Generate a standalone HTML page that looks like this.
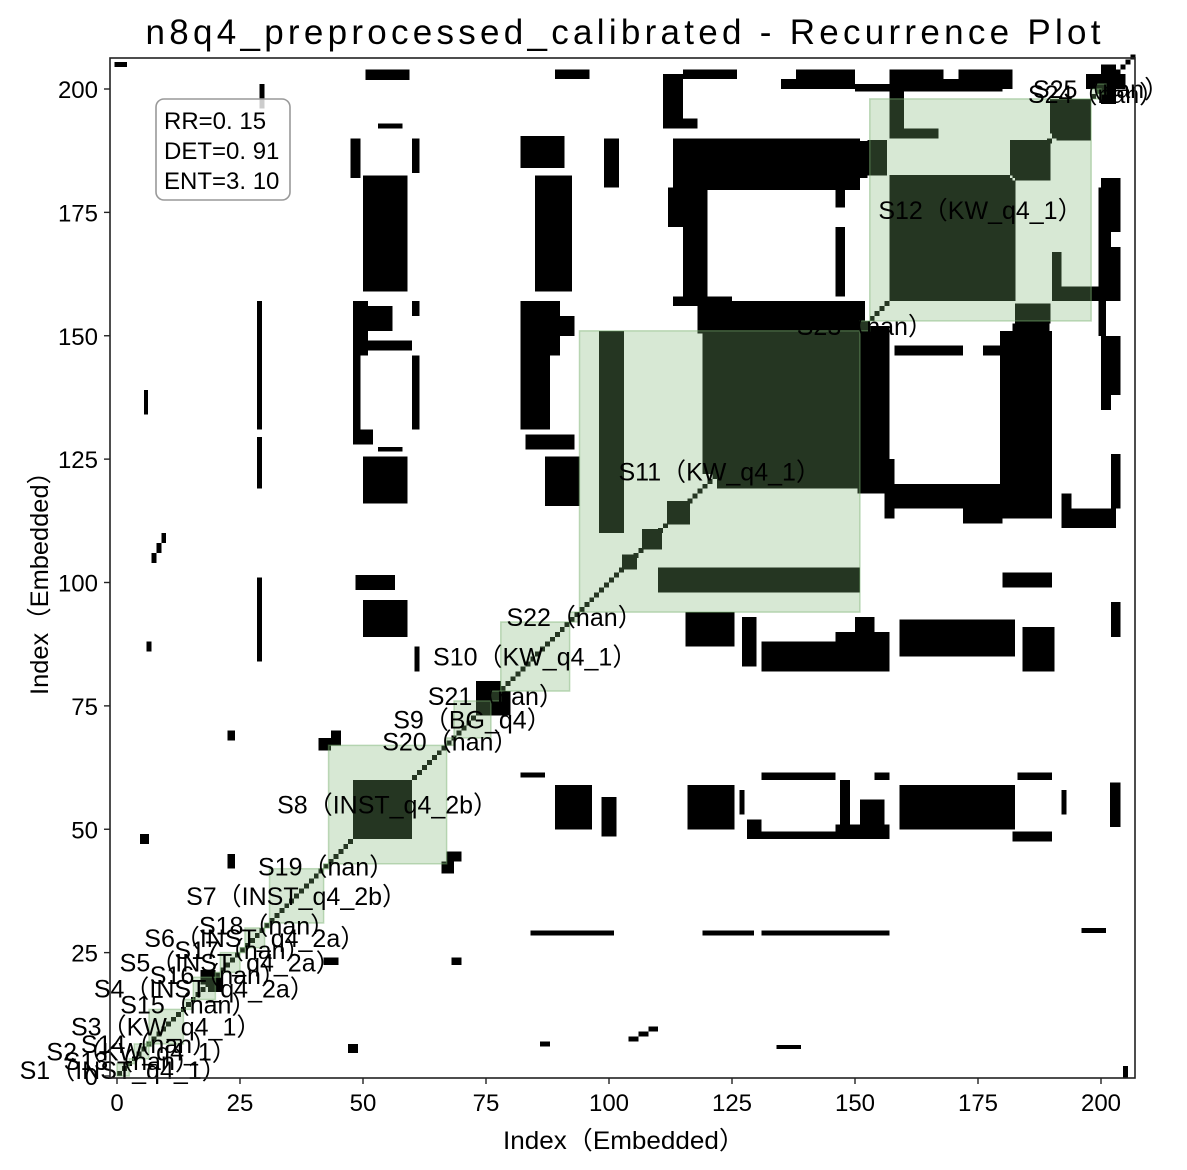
<!DOCTYPE html>
<html><head><meta charset="utf-8"><style>
html,body{margin:0;padding:0;background:#fff;}
svg{display:block;}
text{font-family:"Liberation Sans","WenQuanYi Zen Hei",sans-serif;fill:#000;}
</style></head><body>
<svg id="chart" width="1187" height="1170" viewBox="0 0 1187 1170" xmlns="http://www.w3.org/2000/svg">
<rect x="0" y="0" width="1187" height="1170" fill="#fff"/>
<g id="marks" shape-rendering="crispEdges"></g>
<g id="segs"></g>
<g id="labels"></g>
<rect x="110" y="58" width="1025" height="1020" fill="none" stroke="#222" stroke-width="1.6"/>
<g id="ticks"></g>
<text x="623" y="44" text-anchor="middle" font-size="35" textLength="955" lengthAdjust="spacing">n8q4_preprocessed_calibrated - Recurrence Plot</text>
<text x="624" y="1149" text-anchor="middle" font-size="25" textLength="242" lengthAdjust="spacingAndGlyphs">Index（Embedded）</text>
<text x="0" y="0" text-anchor="middle" font-size="25" transform="translate(48,577) rotate(-90)" textLength="236" lengthAdjust="spacingAndGlyphs">Index（Embedded）</text>
<g>
<rect x="156" y="99" width="134" height="101" rx="8" fill="#fff" fill-opacity="0.8" stroke="#999" stroke-width="1.6"/>
<text x="164" y="129" font-size="24">RR=0. 15</text>
<text x="164" y="159" font-size="24">DET=0. 91</text>
<text x="164" y="189" font-size="24">ENT=3. 10</text>
</g>
</svg>
<script>
const N = 207;
const xTicks = [0,25,50,75,100,125,150,175,200];
const yTicks = [0,25,50,75,100,125,150,175,200];
// recurrence blocks (upper triangle, mirrored) : [x0,x1,y0,y1]
const blocks = [
[-0.5,2,204.5,205.5],[29,30,196,201],[50.5,59.5,201.8,204],
[47.5,49.5,182,190],[60,61.5,183,190],[53,58,192,193],
[50,59,159,182.5],
[48,51,146,157],[51,56,151,156],[51,60,147,149],[60,61.5,154,157],
[48,49.5,131,146],[60,61.5,131,146],
[48,52,128,131],[53,58,126.5,127.5],
[50,59,116,125.5],
[89,96,202,204],[82,91,184,190.5],[85,92.5,159,182.5],[99,102,180,190],
[82,90,146,157],[90,93,150,154],[82,88,131,146],[83,93,127,130],[87,94,115.5,125.5],
[111,115,192,203],[115,126,202,204],[115,118,192,194],[138,150,202,204],
[157,168,202,204],[171,182,202,204],
[119.5,152.5,182,189.5],
[112,120,172,180],[115,120,158,172],[113,125,156,158],
[146,148,176,190],[146,148,158,172],
[119.5,152,151,157],[119,151,122,151],[98,103,110,151],[150.5,156,118,151],
[179.5,190,113,151],
[157,181.5,157.5,182.6],[152.5,156.5,182.5,189.7],[181.5,189,182.5,189.7],[189.6,197,191,198],
[157,160,190,203],[157,167,190,192],
[199.5,201,150,180],[200,203,197,205],[200,202,158,182],[200,202,135,150],
[28.5,29.5,131,157],[28.5,29.5,119,129.5],[5.5,6.3,134,139],
[7,8,104,106],[8,9,106,108],[9,10,108,110],[6,7,86,88],
[50,59,89,96.5],[48.5,56.5,98.5,101.5],[28.5,29.5,84,101],[60.5,61.5,82,87],
[43.5,45.5,67,70],[22.5,24,68,70],[4.7,6.5,47,49],[22.5,24,42,45],[41,43.5,66,68.5],
[48,59.5,48,60],[73,78,74,80],[17,20,18.5,21.5],
[102.6,105.7,102.6,105.7],[106.7,110.8,106.7,110.8],[111.8,116.5,111.8,116.5]
];
const segStart = [0,2.5,3.5,6,6.5,13.5,15.5,20,21,25,26,30,31,42,43,67,68.5,76,78,92,94,151,153,198,199];
const segEnd   = [2.5,3.5,6.5,7,13.5,15.5,20,21,25,26,30,31,42,43,67,68.5,76,78,92,94,151,153,198,200,201];
const segLabels = ["S1（INST_q4_1）","S13（nan）","S2（KW_q4_1）","S14（nan）","S3（KW_q4_1）","S15（nan）","S4（INST_q4_2a）","S16（nan）","S5（INST_q4_2a）","S17（nan）","S6（INST_q4_2a）","S18（nan）","S7（INST_q4_2b）","S19（nan）","S8（INST_q4_2b）","S20（nan）","S9（BG_q4）","S21（nan）","S10（KW_q4_1）","S22（nan）","S11（KW_q4_1）","S23（nan）","S12（KW_q4_1）","S24（nan）","S25（nan）"];

const X = v => 117 + (v) * 4.92;
const Y = v => 1076 - (v) * 4.935;
const NS = "http://www.w3.org/2000/svg";
const marks = document.getElementById('marks');
function cell(x0,x1,y0,y1){
  const r = document.createElementNS(NS,'rect');
  r.setAttribute('x', X(x0)); r.setAttribute('y', Y(y1));
  r.setAttribute('width', Math.max(0.5, X(x1)-X(x0)));
  r.setAttribute('height', Math.max(0.5, Y(y0)-Y(y1)));
  r.setAttribute('fill','#000');
  
  
  marks.appendChild(r);
}
for (let i = 0; i < N; i++) { cell(i, i+1, i, i+1); }
blocks.forEach(b => { cell(b[0],b[1],b[2],b[3]); cell(b[2],b[3],b[0],b[1]); });

const segs = document.getElementById('segs');
const labels = document.getElementById('labels');
segStart.forEach((s, i) => {
  const e = segEnd[i];
  const r = document.createElementNS(NS,'rect');
  r.setAttribute('x', X(s)); r.setAttribute('y', Y(e));
  r.setAttribute('width', X(e)-X(s)); r.setAttribute('height', Y(s)-Y(e));
  r.setAttribute('fill','rgba(121,178,112,0.3)');
  r.setAttribute('stroke','rgba(121,178,112,0.45)');
  r.setAttribute('stroke-width','1.5');
  
  
  segs.appendChild(r);
  const c = (s + e) / 2;
  const t = document.createElementNS(NS,'text');
  t.setAttribute('x', X(c)); t.setAttribute('y', Y(c) + 9);
  t.setAttribute('text-anchor','middle'); t.setAttribute('font-size','25');
  t.textContent = segLabels[i];
  
  
  labels.appendChild(t);
});

const ticks = document.getElementById('ticks');
xTicks.forEach(v => {
  const l = document.createElementNS(NS,'line');
  l.setAttribute('x1', X(v)); l.setAttribute('x2', X(v));
  l.setAttribute('y1', 1078); l.setAttribute('y2', 1084);
  l.setAttribute('stroke','#222'); l.setAttribute('stroke-width','1.4');
  
  
  ticks.appendChild(l);
  const t = document.createElementNS(NS,'text');
  t.setAttribute('x', X(v)); t.setAttribute('y', 1111);
  t.setAttribute('text-anchor','middle'); t.setAttribute('font-size','24');
  t.textContent = v;
  
  
  ticks.appendChild(t);
});
yTicks.forEach(v => {
  const l = document.createElementNS(NS,'line');
  l.setAttribute('x1', 104); l.setAttribute('x2', 110);
  l.setAttribute('y1', Y(v)); l.setAttribute('y2', Y(v));
  l.setAttribute('stroke','#222'); l.setAttribute('stroke-width','1.4');
  
  
  ticks.appendChild(l);
  const t = document.createElementNS(NS,'text');
  t.setAttribute('x', 98); t.setAttribute('y', Y(v) + 9);
  t.setAttribute('text-anchor','end'); t.setAttribute('font-size','24');
  t.textContent = v;
  
  
  ticks.appendChild(t);
});
</script>
</body></html>
